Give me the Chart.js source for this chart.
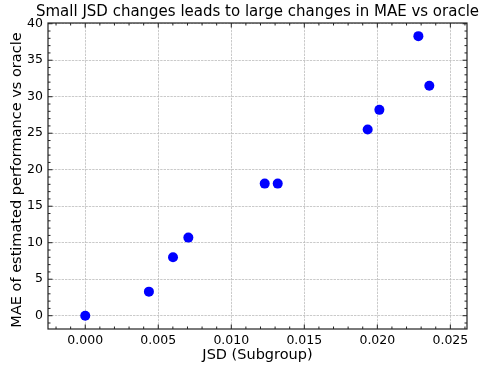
<!DOCTYPE html>
<html>
<head>
<meta charset="utf-8">
<script src="https://cdn.jsdelivr.net/npm/chart.js@4"></script>
<style>
  html, body { margin: 0; padding: 0; background: #fff; }
  #wrap { width: 481px; height: 370px; }
</style>
</head>
<body>
<div id="wrap"><canvas id="chart"></canvas></div>
<script>
const jsdValues = [0.0, 0.00436, 0.00601, 0.00706, 0.01229, 0.01318, 0.01934, 0.02014, 0.02281, 0.02356];
const maeValues = [0.0, 3.3, 8.0, 10.7, 18.1, 18.1, 25.5, 28.2, 38.3, 31.5];
const xTicks = [0, 0.005, 0.010, 0.015, 0.020, 0.025];
const yTicks = [0, 5, 10, 15, 20, 25, 30, 35, 40];
const titleText = "Small JSD changes leads to large changes in MAE vs oracle";
const xLabel = "JSD (Subgroup)";
const yLabel = "MAE of estimated performance vs oracle";

const FONT = "'DejaVu Sans', sans-serif";

// frame, inward major/minor ticks on all sides, title and axis labels
const decorations = {
    id: "decorations",
    afterDraw(chart) {
        const ctx = chart.ctx;
        const a = chart.chartArea;
        const x = chart.scales.x;
        const y = chart.scales.y;
        ctx.save();
        ctx.strokeStyle = "#222";
        ctx.lineWidth = 1.2;
        ctx.strokeRect(a.left, a.top, a.right - a.left, a.bottom - a.top);

        ctx.lineWidth = 1;
        ctx.beginPath();
        for (let i = -2; i <= 26; i++) {
            const v = i / 1000;
            const px = x.getPixelForValue(v);
            if (px < a.left || px > a.right) continue;
            const len = i % 5 === 0 ? 4.5 : 2.5;
            ctx.moveTo(px, a.bottom); ctx.lineTo(px, a.bottom - len);
            ctx.moveTo(px, a.top); ctx.lineTo(px, a.top + len);
        }
        for (let v = -1; v <= 40; v++) {
            const py = y.getPixelForValue(v);
            if (py < a.top || py > a.bottom) continue;
            const len = v % 5 === 0 ? 4.5 : 2.5;
            ctx.moveTo(a.left, py); ctx.lineTo(a.left + len, py);
            ctx.moveTo(a.right, py); ctx.lineTo(a.right - len, py);
        }
        ctx.stroke();

        ctx.fillStyle = "#000";
        ctx.textAlign = "center";
        ctx.textBaseline = "middle";
        ctx.font = "15px " + FONT;
        const cx = (a.left + a.right) / 2;
        ctx.fillText(titleText, cx, 12);
        ctx.font = "14.5px " + FONT;
        ctx.fillText(xLabel, cx, 355);
        ctx.translate(17, 180);
        ctx.rotate(-Math.PI / 2);
        ctx.fillText(yLabel, 0, 0);
        ctx.restore();
    }
};

new Chart(document.getElementById("chart"), {
    type: "scatter",
    data: {
        datasets: [{
            data: jsdValues.map((v, i) => ({ x: v, y: maeValues[i] })),
            backgroundColor: "#0000ff",
            borderWidth: 0,
            pointRadius: 5,
        }],
    },
    options: {
        responsive: true,
        maintainAspectRatio: false,
        animation: false,
        layout: { padding: { top: 23, right: 14, left: 0, bottom: 0 } },
        plugins: {
            legend: { display: false },
            title: { display: false },
            tooltip: { enabled: false },
        },
        scales: {
            x: {
                type: "linear",
                min: -0.00255,
                max: 0.02614,
                afterBuildTicks: (s) => { s.ticks = xTicks.map((v) => ({ value: v })); },
                afterFit: (s) => { s.height = 41; },
                grid: { color: "#bdbdbd", lineWidth: 0.8, drawTicks: false },
                border: { display: false, dash: [2.4, 1] },
                ticks: {
                    padding: 4,
                    color: "#000",
                    font: { family: FONT, size: 12.5 },
                    callback: (v) => v.toFixed(3),
                },
            },
            y: {
                type: "linear",
                min: -1.82,
                max: 40.1,
                afterBuildTicks: (s) => { s.ticks = yTicks.map((v) => ({ value: v })); },
                afterFit: (s) => { s.width = 48; },
                grid: { color: "#bdbdbd", lineWidth: 0.8, drawTicks: false },
                border: { display: false, dash: [2.4, 1] },
                ticks: {
                    padding: 5,
                    color: "#000",
                    font: { family: FONT, size: 12.5 },
                },
            },
        },
    },
    plugins: [decorations],
});
</script>
</body>
</html>
